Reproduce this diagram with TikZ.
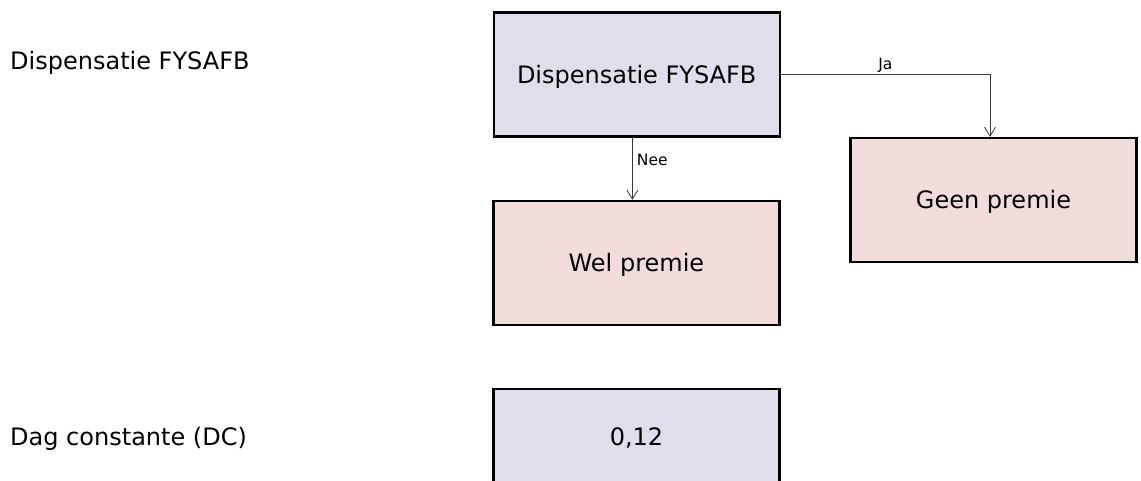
\documentclass[tikz,border=0pt]{standalone}
\usepackage{fontspec}
\setmainfont{DejaVu Sans}
\usetikzlibrary{arrows.meta}
\definecolor{lav}{HTML}{E1DEEB}
\definecolor{pnk}{HTML}{F2DCDB}
\definecolor{linec}{HTML}{383838}
\tikzset{
  box/.style={draw=black, line width=2.2pt, minimum width=286pt, minimum height=124pt,
    inner sep=0pt, font=\fontsize{24}{28}\selectfont, text height=17.5pt, text depth=0pt},
  lavbox/.style={box, fill=lav},
  pnkbox/.style={box, fill=pnk},
  sidelbl/.style={anchor=base west, inner sep=0pt, font=\fontsize{24}{28}\selectfont},
  lbl/.style={inner sep=0pt, font=\fontsize{15.5}{18}\selectfont},
  arr/.style={draw=linec, line width=1pt, -{Straight Barb[length=9pt,width=11pt,line width=0.8pt]}}
}
\begin{document}
\begin{tikzpicture}[x=1pt,y=-1pt]
\useasboundingbox (0,0) rectangle (1141,480);
\clip (0,0) rectangle (1141,480);
\fill[white] (0,0) rectangle (1141,480);
\node[sidelbl] (l1) at (10,69.3) {Dispensatie FYSAFB};
\node[sidelbl] (l2) at (10,445) {Dag constante (DC)};
\node[lavbox] (disp) at (636.7,74.4) {Dispensatie FYSAFB};
\node[pnkbox] (wel) at (636.4,262.9) {Wel premie};
\node[pnkbox] (geen) at (993.5,200) {Geen premie};
\node[lavbox, minimum height=96pt] (val) at (636.5,437) {0,12};
\coordinate (neetop) at ([xshift=-4.3pt]disp.south);
\draw[arr] (disp.east) -| node[lbl, anchor=base, pos=0.25, yshift=5pt] (ja) {Ja} ([xshift=-3.5pt]geen.north);
\draw[arr] (neetop) -- node[lbl, anchor=base west, pos=0.45, xshift=4pt] (nee) {Nee} (neetop |- wel.north);
\end{tikzpicture}
\end{document}
